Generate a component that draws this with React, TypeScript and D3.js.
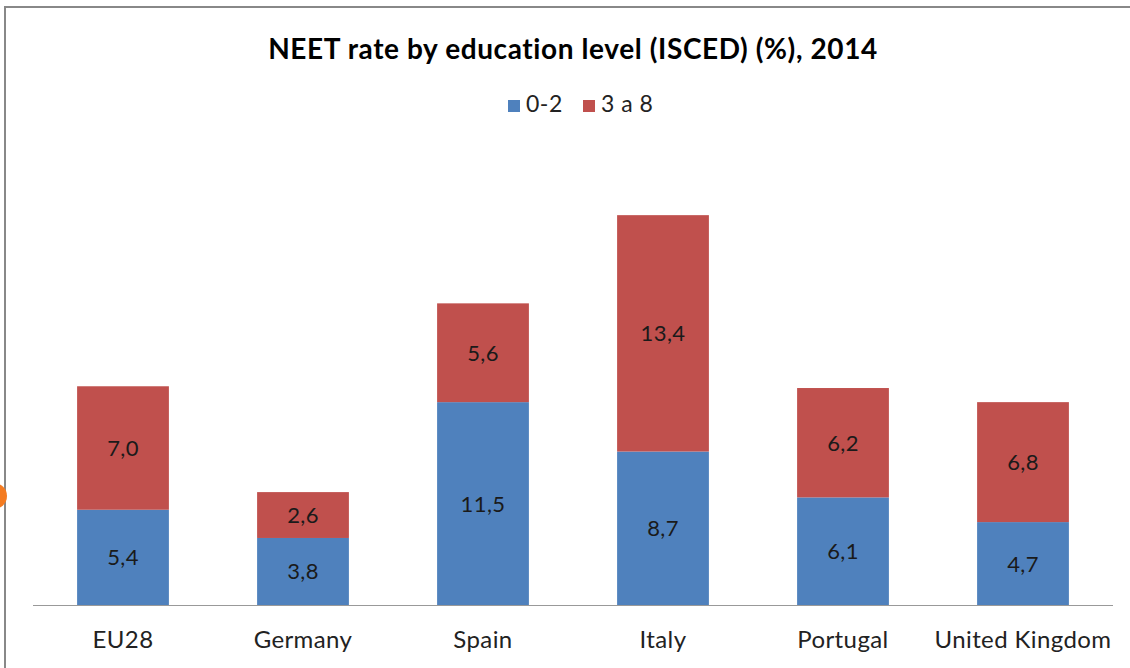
import React from "react";
import * as d3 from "d3";

const categories = ["EU28", "Germany", "Spain", "Italy", "Portugal", "United Kingdom"];
const seriesNames = ["0-2", "3 a 8"];
const low = [5.4, 3.8, 11.5, 8.7, 6.1, 4.7];
const high = [7.0, 2.6, 5.6, 13.4, 6.2, 6.8];
const colors = ["#4F81BD", "#C0504D"];
const title = "NEET rate by education level (ISCED) (%), 2014";

const W = 1130;
const H = 668;
const FONT = "Lato, Carlito, Calibri, 'Open Sans', sans-serif";

export default function App() {
  const x = d3.scaleBand<string>().domain(categories).range([33, 1113]).paddingInner(0.49).paddingOuter(0.245);
  const y = d3.scaleLinear().domain([0, 25]).range([605, 164]);
  const fmt = (v: number) => v.toFixed(1).replace(".", ",");

  const rows = categories.map((c, i) => ({ c, s0: low[i], s1: high[i] }));
  const stack = d3.stack<any>().keys(["s0", "s1"])(rows as any);

  return (
    <svg width={W} height={H} style={{ position: "absolute", left: 0, top: 0, background: "#fff", fontVariantLigatures: "none" }} fontFamily={FONT}>
      <rect x={0} y={0} width={W} height={H} fill="#fff" />
      <rect x={5} y={7} width={W + 10} height={H + 10} fill="none" stroke="#888" strokeWidth={2} />
      <circle cx={-6} cy={496} r={13} fill="#F47B20" />
      <text x={573} y={59} textAnchor="middle" fontSize={28} fontWeight="bold" fill="#000" letterSpacing={0.6}>{title}</text>
      {/* legend */}
      {seriesNames.map((n, i) => {
        const lx = [508, 583][i];
        return (
          <g key={n}>
            <rect x={lx} y={100} width={12} height={12} fill={colors[i]} />
            <text x={lx + 18} y={112} fontSize={23} fill="#222" letterSpacing={0.5}>{n}</text>
          </g>
        );
      })}
      {stack.map((layer, li) => (
        <g key={li}>
          {layer.map((d: any, i: number) => {
            const bx = x(categories[i])!;
            const y0 = y(d[0]);
            const y1 = y(d[1]);
            return (
              <g key={i}>
                <rect x={bx} y={y1} width={x.bandwidth()} height={y0 - y1} fill={colors[li]} />
                <text x={bx + x.bandwidth() / 2} y={(y0 + y1) / 2 + 8} textAnchor="middle" fontSize={22} fill="#1a1a1a" letterSpacing={0.4}>
                  {fmt(d[1] - d[0])}
                </text>
              </g>
            );
          })}
        </g>
      ))}
      <line x1={33} x2={1113} y1={605.5} y2={605.5} stroke="#999" strokeWidth={1.2} />
      {categories.map((c) => (
        <text key={c} x={x(c)! + x.bandwidth() / 2} y={648} textAnchor="middle" fontSize={24} fill="#222" letterSpacing={0.4}>{c}</text>
      ))}
    </svg>
  );
}
